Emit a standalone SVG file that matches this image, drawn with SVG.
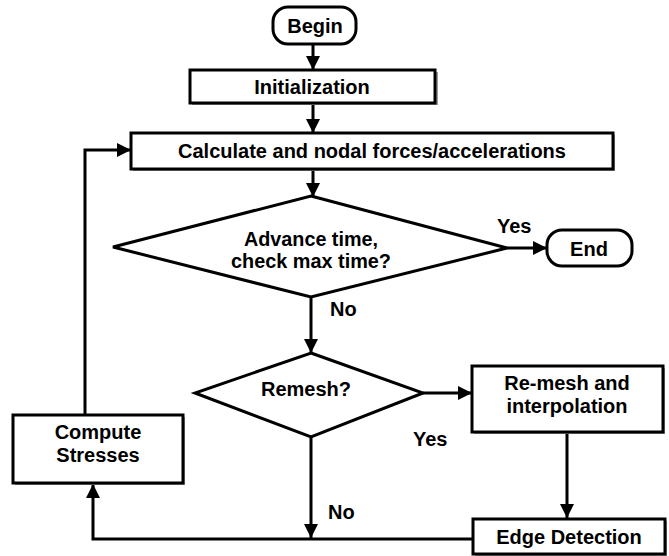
<svg xmlns="http://www.w3.org/2000/svg" width="669" height="556" viewBox="0 0 669 556">
<defs>
<style>
.box{fill:#fff;stroke:#000;stroke-width:3}
.sh{fill:#9a9a9a}
.t{font-family:"Liberation Sans",Arial,sans-serif;font-weight:bold;font-size:20px;fill:#000}
.m{text-anchor:middle}
.c{fill:none;stroke:#000;stroke-width:3}
</style>
<marker id="ah" markerUnits="userSpaceOnUse" markerWidth="16" markerHeight="14" refX="14" refY="7" orient="auto">
<path d="M0,0 L14,7 L0,14 Z" fill="#000"/>
</marker>
</defs>
<rect width="669" height="556" fill="#fff"/>
<g id="connectors">
<path class="c" d="M313,45 V70" marker-end="url(#ah)"/>
<path class="c" d="M313,103 V133" marker-end="url(#ah)"/>
<path class="c" d="M313,169 V197" marker-end="url(#ah)"/>
<path class="c" d="M507,248 H547" marker-end="url(#ah)"/>
<path class="c" d="M311,297 V353" marker-end="url(#ah)"/>
<path class="c" d="M423,393 H472" marker-end="url(#ah)"/>
<path class="c" d="M567,432 V518" marker-end="url(#ah)"/>
<path class="c" d="M311,437 V538" marker-end="url(#ah)"/>
<path class="c" d="M473,539 H93 V484" marker-end="url(#ah)"/>
<path class="c" d="M85,415 V150 H131" marker-end="url(#ah)"/>
<text class="t" x="497" y="233">Yes</text>
<text class="t" x="330" y="316">No</text>
<text class="t" x="413" y="446">Yes</text>
<text class="t" x="328" y="519">No</text>
</g>
<g id="begin">
<rect class="box" x="273" y="7" width="83" height="37" rx="15"/>
<text class="t m" x="315" y="33">Begin</text>
</g>
<g id="init">
<rect class="sh" x="192" y="72" width="246" height="33"/>
<rect class="box" x="190" y="70" width="245" height="33"/>
<text class="t m" x="312" y="94">Initialization</text>
</g>
<g id="calc">
<rect class="sh" x="133" y="135" width="482" height="36"/>
<rect class="box" x="131" y="133" width="482" height="36"/>
<text class="t m" x="372" y="158">Calculate and nodal forces/accelerations</text>
</g>
<g id="advance">
<polygon class="box" points="311,196 507,248 311,297 113,247"/>
<text class="t m" x="311" y="246" textLength="134" lengthAdjust="spacingAndGlyphs">Advance time,</text>
<text class="t m" x="311" y="268" textLength="160" lengthAdjust="spacingAndGlyphs">check max time?</text>
</g>
<g id="end">
<rect class="box" x="547" y="230" width="85" height="36" rx="15"/>
<text class="t m" x="589" y="256">End</text>
</g>
<g id="remesh">
<polygon class="box" points="311,353 423,393 311,437 195,393"/>
<text class="t m" x="306" y="396">Remesh?</text>
</g>
<g id="remeshbox">
<rect class="sh" x="474" y="368" width="191" height="66"/>
<rect class="box" x="472" y="366" width="191" height="66"/>
<text class="t m" x="567" y="390">Re-mesh and</text>
<text class="t m" x="567" y="413">interpolation</text>
</g>
<g id="edge">
<rect class="sh" x="475" y="521" width="192" height="36"/>
<rect class="box" x="473" y="519" width="192" height="35"/>
<text class="t m" x="569" y="544">Edge Detection</text>
</g>
<g id="compute">
<rect class="sh" x="15" y="417" width="170" height="68"/>
<rect class="box" x="13" y="415" width="170" height="68"/>
<text class="t m" x="98" y="439">Compute</text>
<text class="t m" x="98" y="462">Stresses</text>
</g>
</svg>
